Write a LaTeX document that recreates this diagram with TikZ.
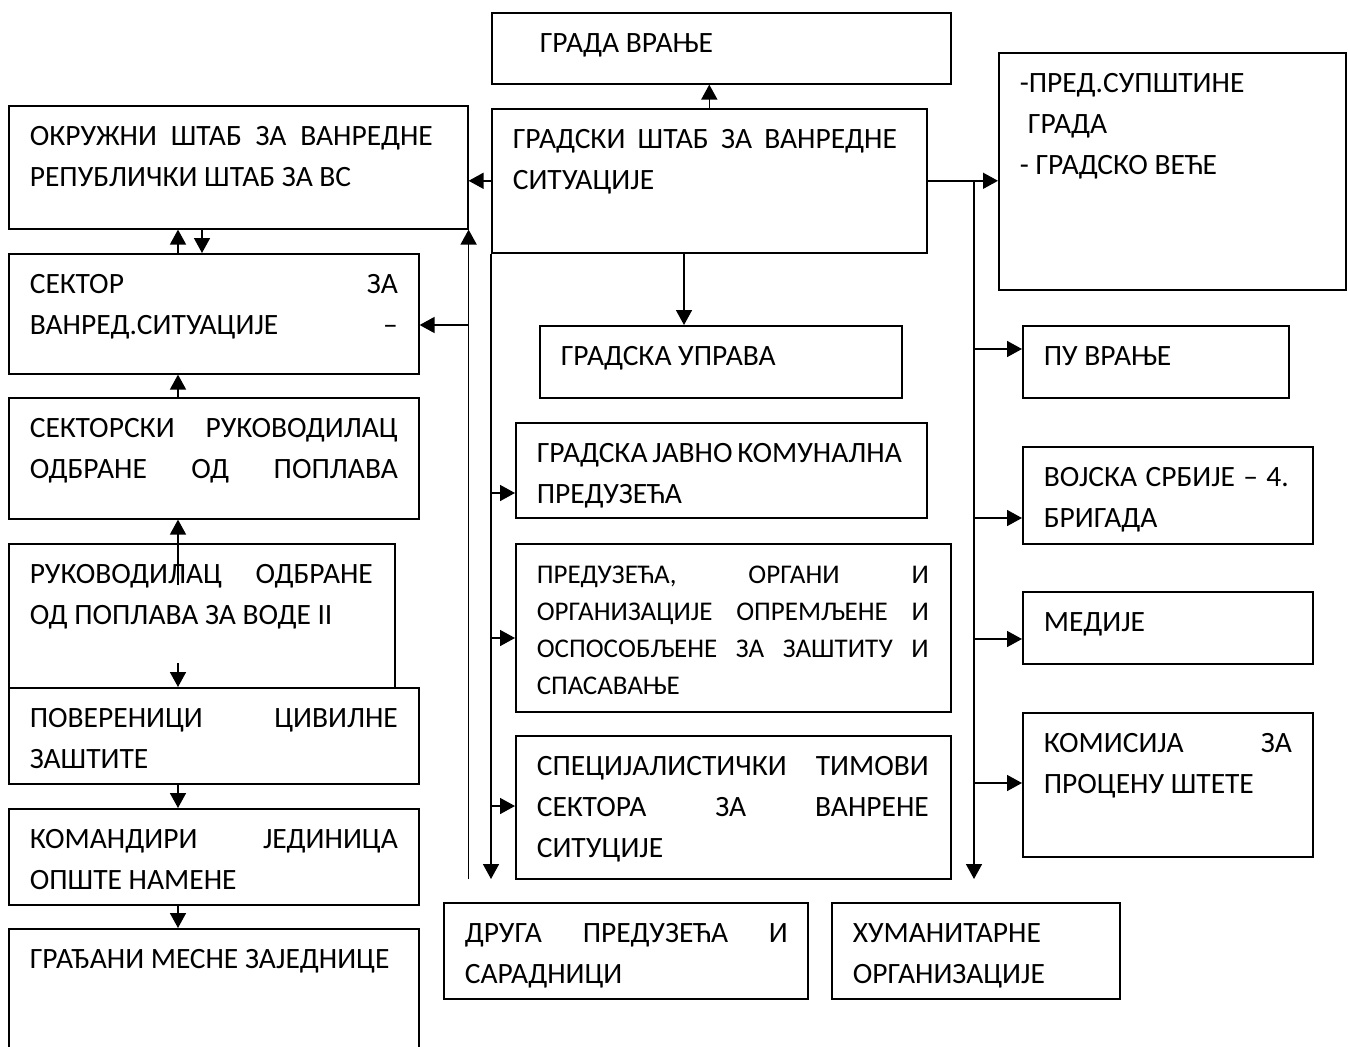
\documentclass[tikz,border=0pt]{standalone}
\usepackage{fontspec}
\setmainfont{Carlito}
\usepackage{tikz}
\usetikzlibrary{arrows.meta,positioning}

% box body: width, height, text width, lines
\newcommand{\cell}[4]{\hbox to #1{\hskip21pt\vbox to #2{\hsize=#3\parindent=0pt\parskip=0pt\raggedright\leavevmode\rule{0pt}{40pt}#4\par\vfil}\hss}}

\tikzset{
  unit/.style={draw, line width=1.6pt, inner sep=0pt, anchor=north west},
  arr/.style={line width=1.6pt, -{Triangle[width=16pt,length=15pt]}},
  small/.style={font=\fontsize{27pt}{37pt}\selectfont}
}

\begin{document}
\begin{tikzpicture}[x=1pt,y=-1pt,font=\fontsize{29.5pt}{41pt}\selectfont]
\fill[white] (0,0) rectangle (1348,1046);
\useasboundingbox (0,0) rectangle (1348,1046);
%left column
\node[unit] (okr) at (8,105) {\cell{459pt}{123pt}{403pt}{ОКРУЖНИ\hfill ШТАБ\hfill ЗА\hfill ВАНРЕДНЕ\\РЕПУБЛИЧКИ ШТАБ ЗА ВС}};
\node[unit] (sektor) at (8,253) {\cell{410pt}{120pt}{368pt}{СЕКТОР\hfill ЗА\\ВАНРЕД.СИТУАЦИЈЕ\hfill –}};
\node[unit] (sektorski) at (8,397) {\cell{410pt}{121pt}{368pt}{СЕКТОРСКИ\hfill РУКОВОДИЛАЦ\\ОДБРАНЕ\hfill ОД\hfill ПОПЛАВА}};
\node[unit] (rukov) at (8,543) {\cell{386pt}{144pt}{343pt}{РУКОВОДИЛАЦ\hfill ОДБРАНЕ\\ОД ПОПЛАВА ЗА ВОДЕ II}};
\node[unit] (poveren) at (8,687) {\cell{410pt}{96pt}{368pt}{ПОВЕРЕНИЦИ\hfill ЦИВИЛНЕ\\ЗАШТИТЕ}};
\node[unit] (komand) at (8,808) {\cell{410pt}{96pt}{368pt}{КОМАНДИРИ\hfill ЈЕДИНИЦА\\ОПШТЕ НАМЕНЕ}};
\node[unit] (gradjani) at (8,928) {\cell{410pt}{130pt}{368pt}{ГРАЂАНИ МЕСНЕ ЗАЈЕДНИЦЕ}};
%middle column
\node[unit] (grad) at (491,12) {\cell{459pt}{71pt}{400pt}{\hspace*{27pt}ГРАДА ВРАЊЕ}};
\node[unit] (shtab) at (491,108) {\cell{435pt}{144pt}{384pt}{ГРАДСКИ\hfill ШТАБ\hfill ЗА\hfill ВАНРЕДНЕ\\СИТУАЦИЈЕ}};
\node[unit] (uprava) at (539,325) {\cell{362pt}{72pt}{320pt}{ГРАДСКА УПРАВА}};
\node[unit] (komun) at (515,422) {\cell{411pt}{95pt}{365pt}{ГРАДСКА\hfill ЈАВНО\hfill КОМУНАЛНА\\ПРЕДУЗЕЋА}};
\node[unit,small] (preduz) at (515,543) {\cell{435pt}{168pt}{392pt}{ПРЕДУЗЕЋА,\hfill ОРГАНИ\hfill И\\ОРГАНИЗАЦИЈЕ\hfill ОПРЕМЉЕНЕ\hfill И\\ОСПОСОБЉЕНЕ\hfill ЗА\hfill ЗАШТИТУ\hfill И\\СПАСАВАЊЕ}};
\node[unit] (spec) at (515,735) {\cell{435pt}{143pt}{392pt}{СПЕЦИЈАЛИСТИЧКИ\hfill ТИМОВИ\\СЕКТОРА\hfill ЗА\hfill ВАНРЕНЕ\\СИТУЦИЈЕ}};
\node[unit] (druga) at (443,902) {\cell{364pt}{96pt}{323pt}{ДРУГА\hfill ПРЕДУЗЕЋА\hfill И\\САРАДНИЦИ}};
\node[unit] (human) at (831,902) {\cell{288pt}{96pt}{250pt}{ХУМАНИТАРНЕ\\ОРГАНИЗАЦИЈЕ}};
%right column
\node[unit] (pred) at (998,52) {\cell{347pt}{237pt}{300pt}{-ПРЕД.СУПШТИНЕ\\\hspace*{8pt}ГРАДА\\- ГРАДСКО ВЕЋЕ}};
\node[unit] (pu) at (1022,325) {\cell{266pt}{72pt}{230pt}{ПУ ВРАЊЕ}};
\node[unit] (vojska) at (1022,446) {\cell{290pt}{97pt}{245pt}{ВОЈСКА\hfill СРБИЈЕ\hfill –\hfill 4.\\БРИГАДА}};
\node[unit] (medije) at (1022,591) {\cell{290pt}{72pt}{248pt}{МЕДИЈЕ}};
\node[unit] (komis) at (1022,712) {\cell{290pt}{144pt}{248pt}{КОМИСИЈА\hfill ЗА\\ПРОЦЕНУ ШТЕТЕ}};
%arrows in left column
\coordinate (up) at (178,0); \coordinate (dn) at (202,0);
\draw[arr] (sektor.north -| up) -- (okr.south -| up);
\draw[arr] (okr.south -| dn) -- (sektor.north -| dn);
\draw[arr] (sektorski.north -| up) -- (sektor.south -| up);
\coordinate (rukTop) at (178,585); \draw[arr] (rukTop) -- (sektorski.south -| rukTop);
\coordinate (rukBot) at (178,663); \draw[arr] (rukBot) -- (poveren.north -| rukBot);
\draw[arr] (poveren.south -| up) -- (komand.north -| up);
\draw[arr] (komand.south -| up) -- (gradjani.north -| up);
%arrows from city staff
\draw[arr] (shtab.north) -- (grad.south -| shtab.north);
\draw[arr] (shtab.west) -- (okr.east |- shtab.west);
\coordinate (uprIn) at (684,0); \draw[arr] (shtab.south -| uprIn) -- (uprava.north -| uprIn);
\draw[arr] (shtab.east) -- (pred.west |- shtab.east);
%left line up to okr
\coordinate (busA) at (okr.south east |- 0,879);
\draw[arr] (busA) -- (okr.south east);
\draw[arr] (busA |- 0,325) -- (sektor.east |- 0,325);
%middle line down
\coordinate (busB) at (shtab.south west |- 0,879);
\draw[arr] (shtab.south west) -- (busB);
\draw[arr] (busB |- 0,493) -- (komun.west |- 0,493);
\draw[arr] (busB |- 0,638) -- (preduz.west |- 0,638);
\draw[arr] (busB |- 0,806) -- (spec.west |- 0,806);
%right line down
\coordinate (busC) at (974,879);
\draw[arr] (busC |- shtab.east) -- (busC);
\draw[arr] (busC |- 0,349) -- (pu.west |- 0,349);
\draw[arr] (busC |- 0,518) -- (vojska.west |- 0,518);
\draw[arr] (busC |- 0,639) -- (medije.west |- 0,639);
\draw[arr] (busC |- 0,783) -- (komis.west |- 0,783);
\end{tikzpicture}
\end{document}
